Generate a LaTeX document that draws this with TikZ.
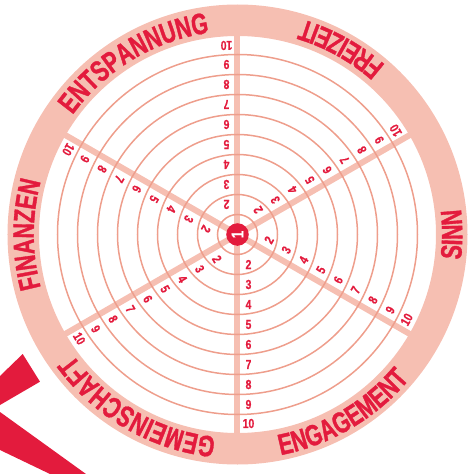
\documentclass[tikz,border=0pt]{standalone}
\usepackage{fontspec}
\usetikzlibrary{calc,decorations.text}
\newfontfamily\ringfont{Liberation Sans}[FakeStretch=0.72,FakeBold=1.2,LetterSpace=8]
\newfontfamily\numfont{Liberation Sans}[FakeStretch=0.8,FakeBold=0.6]
\definecolor{wheelred}{HTML}{E31B3D}
\definecolor{wheelpink}{HTML}{F6BFB2}
\definecolor{wheelline}{HTML}{EE9E8C}
\newcommand\ringlabel{\ringfont\bfseries\fontsize{29.5}{29.5}\selectfont}

\begin{document}
\begin{tikzpicture}[x=1pt, y=1pt,
    num/.style={text=wheelred, font=\numfont\bfseries\fontsize{13}{13}\selectfont, inner sep=0pt},
    spoke/.style={wheelpink, line width=6pt},
    level/.style={wheelline, line width=1.5pt},
    ringtext/.style={decorate, decoration={text along path, text={|\ringlabel|#1}, text align=center, text color=wheelred}}]
    \useasboundingbox (-237.5,-239.5) rectangle (230.5,234.5);

    % spokes and levels
    \foreach \a in {90,30,...,-210}
        \draw[spoke] (0,0) -- (\a:199);
    \foreach \r in {20,40,...,180}
        \draw[level] (0,0) circle[radius=\r];
    \draw[wheelpink, line width=31.5pt] (0,0) circle[radius=214.25];

    % scale numbers
    \foreach \a in {90,30,...,-210}
        \foreach \k in {2,...,10} {
            \pgfmathsetmacro\r{min(20*\k-10,189)}
            \node[num, rotate=\a+90] (n\a-\k) at ($(\a:\r)+(\a+90:11)$) {\k};
        }

    \node[circle, fill=wheelred, minimum size=22.6pt, inner sep=0pt, text=white,
        font=\numfont\bfseries\fontsize{17}{17}\selectfont, rotate=90] (hub) at (0,0) {1};

    % ring labels
    \path[ringtext=ENTSPANNUNG] (171:203.7) arc[start angle=171, end angle=71, radius=203.7];
    \path[ringtext=FREIZEIT] (11:224.8) arc[start angle=11, end angle=111, radius=224.8];
    \path[ringtext=SINN] (-50:224.8) arc[start angle=-50, end angle=50, radius=224.8];
    \path[ringtext=ENGAGEMENT] (-109.5:224.8) arc[start angle=-109.5, end angle=-9.5, radius=224.8];
    \path[ringtext=GEMEINSCHAFT] (290:203.7) arc[start angle=290, end angle=190, radius=203.7];
    \path[ringtext=FINANZEN] (230:203.7) arc[start angle=230, end angle=130, radius=203.7];

    % stripes
    \fill[wheelred] (-237.5,-141.5) -- (-214.8,-119.5) -- (-197.5,-147.2) -- (-237.5,-170.5) -- cycle;
    \fill[wheelred] (-237.5,-177.5) -- (-151.5,-239.5) -- (-187.5,-239.5) -- (-237.5,-215.5) -- cycle;
\end{tikzpicture}
\end{document}
